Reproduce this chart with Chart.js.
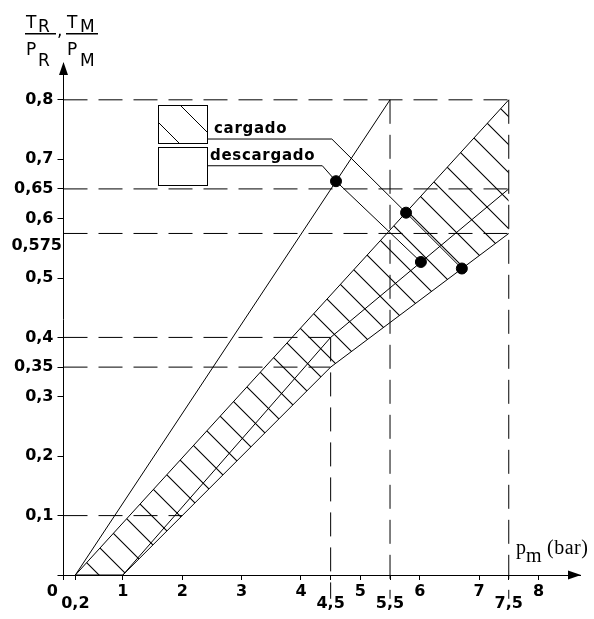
<!DOCTYPE html>
<html>
<head>
<meta charset="utf-8">
<script src="https://cdn.jsdelivr.net/npm/chart.js@4.4.1/dist/chart.umd.min.js"></script>
<style>
  html, body { margin: 0; padding: 0; background: #fff; }
  #wrap { width: 594px; height: 619px; }
</style>
</head>
<body>
<div id="wrap"><canvas id="grafico"></canvas></div>
<script>
// ── datos ──
const ticksX = [0, 0.2, 1, 2, 3, 4, 4.5, 5, 5.5, 6, 7, 7.5, 8];
const ticksXAbajo = [0.2, 4.5, 5.5, 7.5];          // etiquetas en la segunda fila
const ticksY = [0, 0.1, 0.2, 0.3, 0.35, 0.4, 0.5, 0.6, 0.65, 0.7, 0.8];

const rectaRapida = [[0.2, 0], [5.5, 0.8]];
const bordeSup = [[0.2, 0], [7.5, 0.8]];
const bordeInf = [[0.2, 0], [1, 0], [4.5, 0.35], [7.5, 0.575]];
const lineaMedia = [[1, 0], [4.5, 0.4], [7.5, 0.65]];

const puntos = [[4.59, 0.663], [5.77, 0.61], [6.02, 0.527], [6.71, 0.516]];

const flechaCargado = [[2.42, 0.734], [4.52, 0.734], [5.77, 0.61], [6.71, 0.516]];
const flechaDescargado = [[2.42, 0.689], [4.36, 0.689], [4.59, 0.663], [6.02, 0.527]];

// guías discontinuas: [y, x final] y [x, y superior]
const guiasH = [[0.8, 7.5], [0.65, 7.5], [0.575, 7.5], [0.4, 4.5], [0.35, 4.5], [0.1, 2]];
const guiasV = [[4.5, 0.4], [5.5, 0.8], [7.5, 0.8]];

const negro = '#000';
const coma = v => String(v).replace('.', ',');
const xy = arr => arr.map(([x, y]) => ({ x, y }));

function rayado() {
    const c = document.createElement('canvas');
    c.width = c.height = 28;
    const g = c.getContext('2d');
    g.strokeStyle = negro;
    g.lineWidth = 1.1;
    g.beginPath();
    g.moveTo(-2, -2); g.lineTo(30, 30);
    g.moveTo(26, -2); g.lineTo(30, 2);
    g.moveTo(-2, 26); g.lineTo(2, 30);
    g.stroke();
    return g.createPattern(c, 'repeat');
}

function linea(data, extra) {
    return Object.assign({
        data: xy(data), showLine: true, borderColor: negro, borderWidth: 1,
        pointRadius: 0, fill: false
    }, extra);
}

const fuenteTicks = { family: 'DejaVu Sans', weight: 'bold', size: 16, lineHeight: 0.8 };

// flechas, leyenda y rótulos
const extras = {
    id: 'extras',
    afterDraw(chart) {
        const { ctx, chartArea: a, scales: { x, y } } = chart;
        const x0 = x.getPixelForValue(0);
        const y0 = y.getPixelForValue(0);
        ctx.save();
        ctx.fillStyle = negro;
        ctx.strokeStyle = negro;
        ctx.lineWidth = 1;

        // puntas de los ejes
        ctx.beginPath();
        ctx.moveTo(x0, a.top - 1); ctx.lineTo(x0 - 4.5, a.top + 12); ctx.lineTo(x0 + 4.5, a.top + 12);
        ctx.closePath(); ctx.fill();
        ctx.beginPath();
        ctx.moveTo(a.right + 1, y0); ctx.lineTo(a.right - 12, y0 - 4.5); ctx.lineTo(a.right - 12, y0 + 4.5);
        ctx.closePath(); ctx.fill();

        // etiqueta 0,575 desplazada
        ctx.font = 'bold 16px "DejaVu Sans"';
        ctx.textAlign = 'right';
        ctx.textBaseline = 'middle';
        ctx.fillText('0,575', x0 - 1.5, y.getPixelForValue(0.575) + 12);

        // cajas de la leyenda
        ctx.strokeRect(158.5, 105.5, 49, 38);
        ctx.strokeRect(158.5, 147.5, 49, 38);
        ctx.save();
        ctx.beginPath(); ctx.rect(158.5, 105.5, 49, 38); ctx.clip();
        ctx.beginPath();
        ctx.moveTo(158, 122); ctx.lineTo(190, 154);
        ctx.moveTo(180, 105); ctx.lineTo(212, 137);
        ctx.stroke();
        ctx.restore();

        ctx.textAlign = 'left';
        ctx.textBaseline = 'alphabetic';
        ctx.font = 'bold 15px "DejaVu Sans"';
        ctx.letterSpacing = '0.7px';
        ctx.fillText('cargado', 214, 133);
        ctx.fillText('descargado', 210, 160);
        ctx.letterSpacing = '0px';

        // título del eje Y
        ctx.font = '17px "DejaVu Sans"';
        ctx.fillText('T', 26, 28);
        ctx.fillText('R', 38, 32);
        ctx.fillText('P', 26, 55);
        ctx.fillText('R', 38, 66);
        ctx.fillText(',', 57, 36);
        ctx.fillText('T', 67, 28);
        ctx.fillText('M', 80, 32);
        ctx.fillText('P', 67, 55);
        ctx.fillText('M', 80, 66);
        ctx.fillRect(25, 33, 31, 1.5);
        ctx.fillRect(66, 33, 32, 1.5);

        // rótulo del eje X
        ctx.font = '20px "Liberation Serif"';
        ctx.fillText('p', 516, 554);
        ctx.fillText('m', 526, 562);
        ctx.letterSpacing = '0.5px';
        ctx.fillText('(bar)', 547, 554);
        ctx.restore();
    }
};

new Chart(document.getElementById('grafico'), {
    type: 'scatter',
    data: {
        datasets: [
            { data: xy(puntos), pointRadius: 5.5, pointBackgroundColor: negro, pointBorderColor: negro, showLine: false },
            linea(flechaCargado),
            linea(flechaDescargado),
            linea(bordeSup, { fill: '+1', backgroundColor: rayado() }),
            linea(bordeInf),
            linea(lineaMedia),
            linea(rectaRapida),
            ...guiasH.map(([yv, xf]) => linea([[0, yv], [xf, yv]], { borderDash: [24, 11] })),
            ...guiasV.map(([xv, yt]) => linea([[xv, yt], [xv, -0.04]], { borderDash: [24, 11], clip: false }))
        ]
    },
    options: {
        responsive: true,
        maintainAspectRatio: false,
        animation: false,
        layout: { padding: { top: 63, right: 14, left: 0, bottom: 0 } },
        plugins: { legend: { display: false }, tooltip: { enabled: false } },
        scales: {
            x: {
                type: 'linear', min: 0, max: 8.7,
                afterBuildTicks: s => { s.ticks = ticksX.map(value => ({ value })); },
                afterFit: s => { s.height = 44; },
                ticks: {
                    autoSkip: false, maxRotation: 0, padding: 5, color: negro, font: fuenteTicks,
                    callback: v => v === 0 ? '0    ' : (ticksXAbajo.includes(v) ? ['', coma(v)] : coma(v))
                },
                grid: { drawOnChartArea: false, tickLength: 5, color: negro },
                border: { color: negro }
            },
            y: {
                type: 'linear', min: 0, max: 0.862,
                afterBuildTicks: s => { s.ticks = ticksY.map(value => ({ value })); },
                afterFit: s => { s.width = 63.5; },
                ticks: {
                    autoSkip: false, padding: 4, color: negro, font: fuenteTicks,
                    callback: v => v === 0 ? '' : coma(v)
                },
                grid: { drawOnChartArea: false, tickLength: 6, color: negro },
                border: { color: negro }
            }
        }
    },
    plugins: [extras]
});
</script>
</body>
</html>
